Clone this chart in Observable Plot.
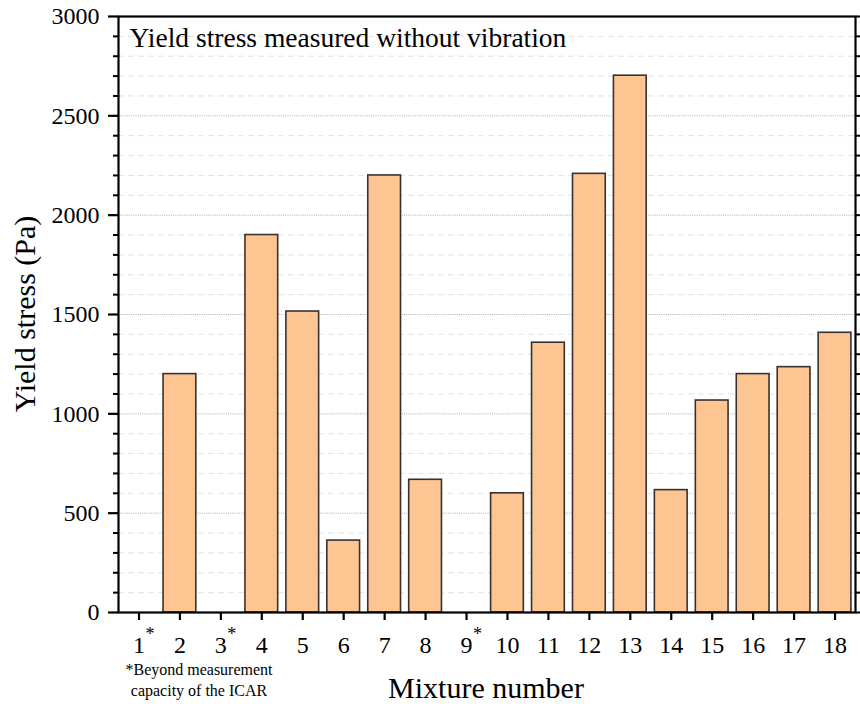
<!DOCTYPE html>
<html>
<head>
<meta charset="utf-8">
<script src="https://cdn.jsdelivr.net/npm/d3@7"></script>
<script src="https://cdn.jsdelivr.net/npm/@observablehq/plot@0.6"></script>
<style>
  html, body { margin: 0; padding: 0; background: #fff; }
  #chart svg { display: block; }
  #chart svg text { font-family: 'Liberation Serif', 'Times New Roman', serif; font-variant: normal; }
</style>
</head>
<body>
<div id="chart"></div>
<script>
// Mixture numbers along the x axis
const mixtures = ["1","2","3","4","5","6","7","8","9","10","11","12","13","14","15","16","17","18"];
// Yield stress (Pa); null = beyond measurement capacity of the ICAR
const yieldStress = [null, 1200, null, 1900, 1515, 362, 2200, 668, null, 600, 1358, 2208, 2702, 616, 1067, 1200, 1235, 1408];
// Mixtures flagged with an asterisk
const starred = ["1", "3", "9"];
// Y axis ticks
const majorTicks = [0, 500, 1000, 1500, 2000, 2500, 3000];
const minorTicks = d3.range(0, 3001, 100).filter(v => v % 500 !== 0);

const rows = mixtures.map((m, i) => ({mixture: m, stress: yieldStress[i]}))
  .filter(d => d.stress != null);

const serif = "'Liberation Serif', 'Times New Roman', serif";
const blank = () => "";

const chart = Plot.plot({
  width: 860,
  height: 704,
  marginTop: 16,
  marginLeft: 118,
  marginRight: 5,
  marginBottom: 92,
  style: {fontFamily: serif, background: "#fff", color: "#000"},
  x: {domain: mixtures, paddingInner: 0.2, paddingOuter: 0.1, round: false, label: null},
  y: {domain: [0, 3000], label: null},
  marks: [
    Plot.gridY(minorTicks, {stroke: "#dadada", strokeOpacity: 1, strokeWidth: 0.8, strokeDasharray: "6,4"}),
    Plot.gridY(majorTicks, {stroke: "#9a9a9a", strokeOpacity: 1, strokeWidth: 0.8, strokeDasharray: "1,1.2"}),
    Plot.barY(rows, {x: "mixture", y: "stress", fill: "#fcc592", stroke: "#3b3030", strokeWidth: 1.6}),
    Plot.axisY(majorTicks, {anchor: "left", tickSize: 10, tickPadding: 9, fontSize: 24, fontFamily: serif, tickFormat: d3.format("d"), strokeWidth: 2.2, label: null}),
    Plot.axisY(minorTicks, {anchor: "left", tickSize: 5, tickFormat: blank, strokeWidth: 2, label: null}),
    Plot.axisY(majorTicks, {anchor: "right", tickSize: 5, tickFormat: blank, strokeWidth: 2, label: null}),
    Plot.axisY(minorTicks, {anchor: "right", tickSize: 5, tickFormat: blank, strokeWidth: 2, label: null}),
    Plot.axisX({anchor: "bottom", tickSize: 8, tickPadding: 15, fontSize: 24, fontFamily: serif, strokeWidth: 2.2, label: null}),
    Plot.text(starred, {x: d => d, frameAnchor: "bottom", text: () => "*", dx: 11, dy: 27, fontSize: 18, fontFamily: serif, fill: "#000"}),
    Plot.frame({stroke: "#000", strokeWidth: 2.2}),
    Plot.text(["Yield stress measured without vibration"], {
      frameAnchor: "top-left", textAnchor: "start", lineAnchor: "bottom",
      dx: 11, dy: 30, fontSize: 27.5, fontFamily: serif, fill: "#000"
    })
  ]
});

const svg = d3.select(chart);

// Axis titles
svg.append("text")
  .attr("transform", "translate(35,314) rotate(-90)")
  .attr("text-anchor", "middle")
  .attr("font-size", 30)
  .text("Yield stress (Pa)");

svg.append("text")
  .attr("x", 486)
  .attr("y", 698)
  .attr("text-anchor", "middle")
  .attr("font-size", 30)
  .text("Mixture number");

// Footnote for the starred mixtures
const note = svg.append("text")
  .attr("text-anchor", "middle")
  .attr("font-size", 16);
note.append("tspan").attr("x", 199).attr("y", 674.5).text("*Beyond measurement");
note.append("tspan").attr("x", 199).attr("y", 695.5).text("capacity of the ICAR");

// Serif face on every label, axis tick labels included
svg.selectAll("text").style("font-family", serif).style("font-variant", "normal");

document.getElementById("chart").append(chart);
</script>
</body>
</html>
